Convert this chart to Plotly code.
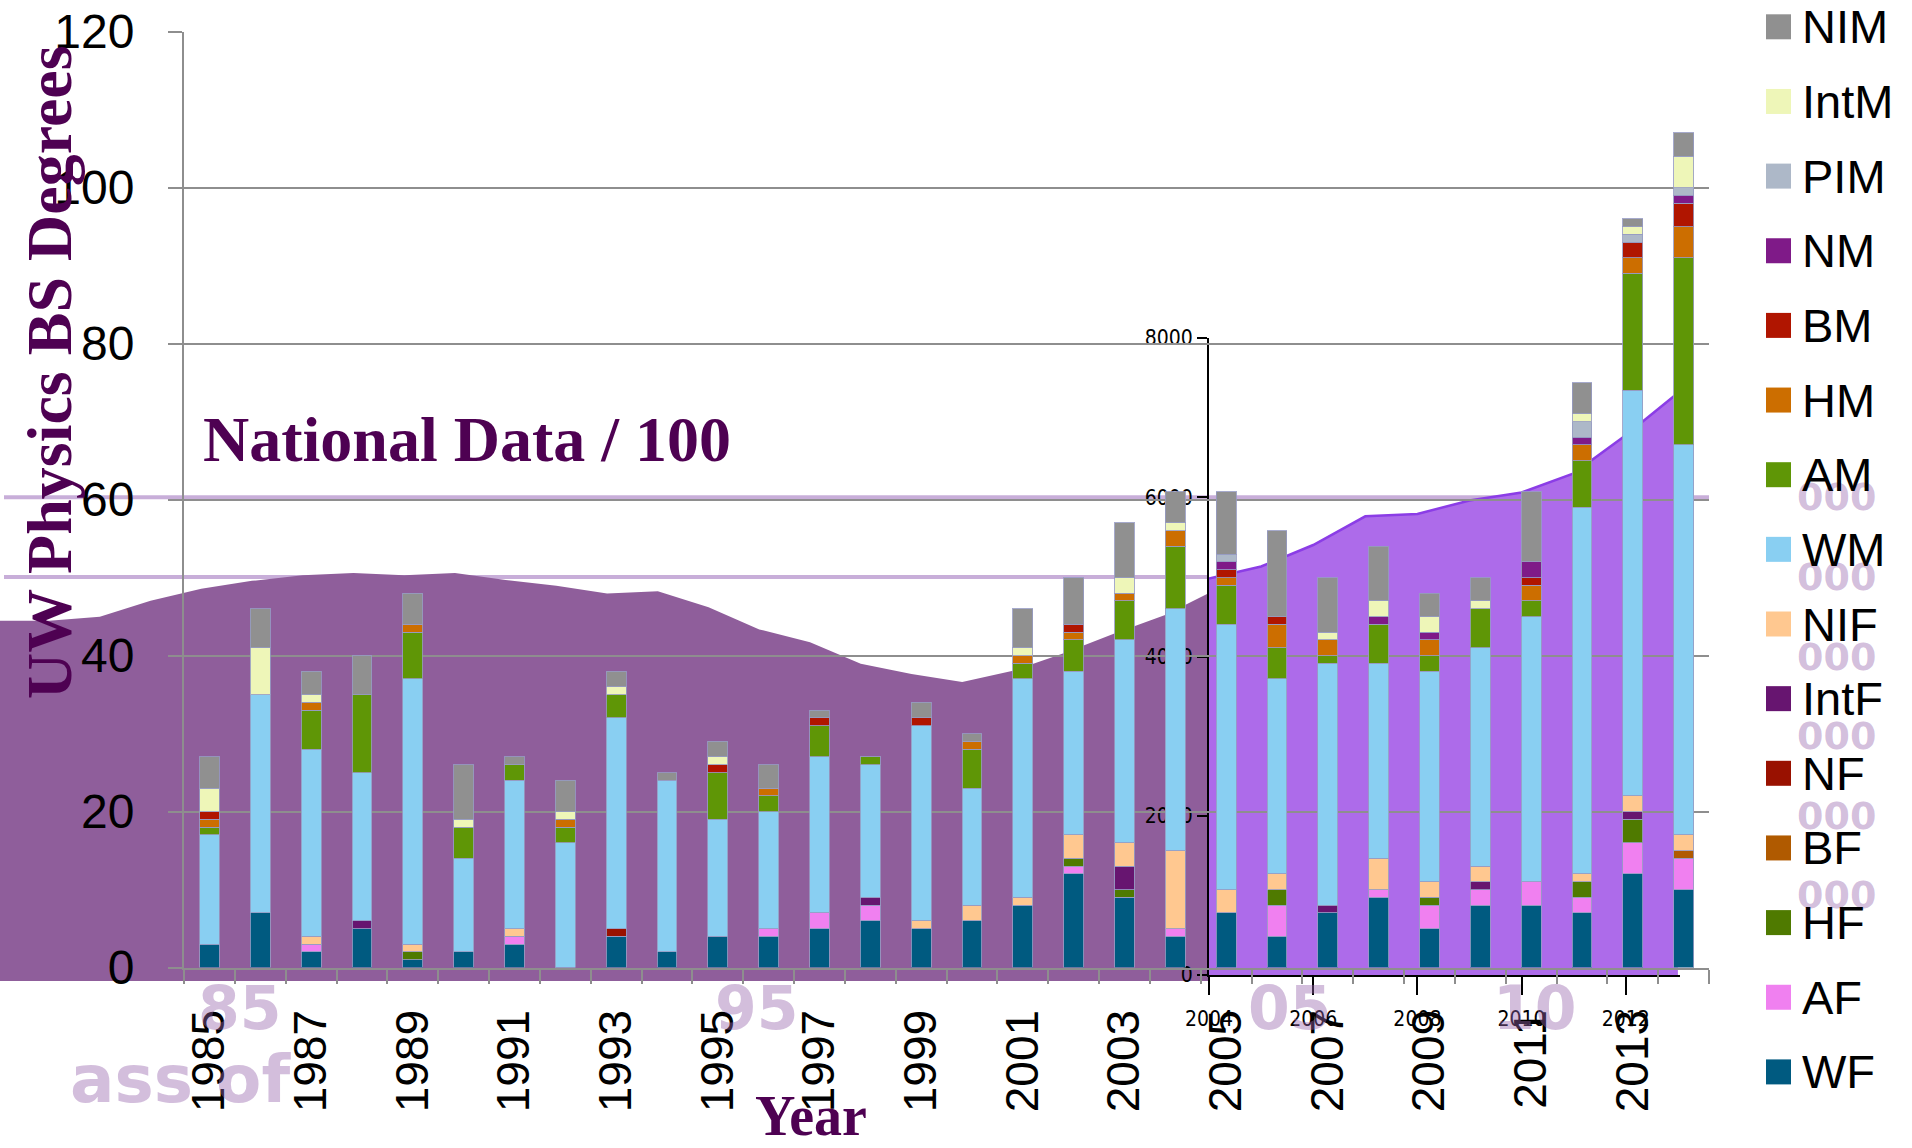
import plotly.graph_objects as go

# ---------------- data ----------------
years = list(range(1985, 2015))

WF   = [3, 7, 2, 5, 1, 2, 3, 0, 4, 2, 4, 4, 5, 6, 5, 6, 8, 12, 9, 4, 7, 4, 7, 9, 5, 8, 8, 7, 12, 10]
AF   = [0, 0, 1, 0, 0, 0, 1, 0, 0, 0, 0, 1, 2, 2, 0, 0, 0, 1, 0, 1, 0, 4, 0, 1, 3, 2, 3, 2, 4, 4]
HF   = [0, 0, 0, 0, 1, 0, 0, 0, 0, 0, 0, 0, 0, 0, 0, 0, 0, 1, 1, 0, 0, 2, 0, 0, 1, 0, 0, 2, 3, 0]
BF   = [0, 0, 0, 0, 0, 0, 0, 0, 0, 0, 0, 0, 0, 0, 0, 0, 0, 0, 0, 0, 0, 0, 0, 0, 0, 0, 0, 0, 0, 1]
NF   = [0, 0, 0, 0, 0, 0, 0, 0, 1, 0, 0, 0, 0, 0, 0, 0, 0, 0, 0, 0, 0, 0, 0, 0, 0, 0, 0, 0, 0, 0]
IntF = [0, 0, 0, 1, 0, 0, 0, 0, 0, 0, 0, 0, 0, 1, 0, 0, 0, 0, 3, 0, 0, 0, 1, 0, 0, 1, 0, 0, 1, 0]
NIF  = [0, 0, 1, 0, 1, 0, 1, 0, 0, 0, 0, 0, 0, 0, 1, 2, 1, 3, 3, 10, 3, 2, 0, 4, 2, 2, 0, 1, 2, 2]
WM   = [14, 28, 24, 19, 34, 12, 19, 16, 27, 22, 15, 15, 20, 17, 25, 15, 28, 21, 26, 31, 34, 25, 31, 25, 27, 28, 34, 47, 52, 50]
AM   = [1, 0, 5, 10, 6, 4, 2, 2, 3, 0, 6, 2, 4, 1, 0, 5, 2, 4, 5, 8, 5, 4, 1, 5, 2, 5, 2, 6, 15, 24]
HM   = [1, 0, 1, 0, 1, 0, 0, 1, 0, 0, 0, 1, 0, 0, 0, 1, 1, 1, 1, 2, 1, 3, 2, 0, 2, 0, 2, 2, 2, 4]
BM   = [1, 0, 0, 0, 0, 0, 0, 0, 0, 0, 1, 0, 1, 0, 1, 0, 0, 1, 0, 0, 1, 1, 0, 0, 0, 0, 1, 0, 2, 3]
NM   = [0, 0, 0, 0, 0, 0, 0, 0, 0, 0, 0, 0, 0, 0, 0, 0, 0, 0, 0, 0, 1, 0, 0, 1, 1, 0, 2, 1, 0, 1]
PIM  = [0, 0, 0, 0, 0, 0, 0, 0, 0, 0, 0, 0, 0, 0, 0, 0, 0, 0, 0, 0, 1, 0, 0, 0, 0, 0, 0, 2, 1, 1]
IntM = [3, 6, 1, 0, 0, 1, 0, 1, 1, 0, 1, 0, 0, 0, 0, 0, 1, 0, 2, 1, 0, 0, 1, 2, 2, 1, 0, 1, 1, 4]
NIM  = [4, 5, 3, 5, 4, 7, 1, 4, 2, 1, 2, 3, 1, 0, 2, 1, 5, 6, 7, 4, 8, 11, 7, 7, 3, 3, 9, 4, 1, 3]

# national physics BS degrees (background area), early part and inset part
nat_years_early = list(range(1980, 2005))
nat_early = [4450, 4450, 4500, 4700, 4850, 4950, 5020, 5050, 5020, 5050, 4960, 4890, 4790,
             4820, 4620, 4340, 4180, 3910, 3780, 3680, 3820, 4040, 4290, 4520, 4840]
nat_years_late = list(range(2004, 2014))
nat_late = [4980, 5130, 5400, 5760, 5790, 5960, 6060, 6300, 6780, 7310]

inset_ticks_x = [2004, 2006, 2008, 2010, 2012]
inset_ticks_y = [0, 2000, 4000, 6000, 8000]
main_ticks_y = [0, 20, 40, 60, 80, 100, 120]
label_years = list(range(1985, 2014, 2))

series = [
    ("WF", WF, "#005a80"),
    ("AF", AF, "#f080f0"),
    ("HF", HF, "#4f7a00"),
    ("BF", BF, "#b05a00"),
    ("NF", NF, "#991100"),
    ("IntF", IntF, "#671570"),
    ("NIF", NIF, "#ffc890"),
    ("WM", WM, "#89cff2"),
    ("AM", AM, "#5f9606"),
    ("HM", HM, "#cc6e00"),
    ("BM", BM, "#b01500"),
    ("NM", NM, "#7f1a88"),
    ("PIM", PIM, "#adb8c8"),
    ("IntM", IntM, "#eef6b8"),
    ("NIM", NIM, "#909090"),
]

# ---------------- geometry (pixels) ----------------
W, H = 1912, 1148
AX_L, AX_R = 184, 1709
Y0_PX, Y120_PX = 967.5, 31.5
INS_L, INS_R = 1209, 1680
INS_Y0, INS_Y8 = 975, 338
INS_PX_YR = 52.1
NAT_BOTTOM_PX = 981
NAT_1985_PX, NAT_PX_YR = 252, 50.73
px_per_count = (INS_Y0 - INS_Y8) / 8000.0

GRID = "#8e8e8e"
DARK = "#8f5e9b"
LIGHT = "#ad6bea"
PURPLE_TXT = "#4e0152"
SANS = "Liberation Sans, Arial, Helvetica, sans-serif"
SERIF = "Liberation Serif, Times New Roman, serif"
COND = "Liberation Sans Narrow, DejaVu Sans Condensed, Arial Narrow, sans-serif"

nat_floor = -(NAT_BOTTOM_PX - INS_Y0) / px_per_count
nat_top = INS_Y0 / px_per_count

fig = go.Figure()

# background national area (early)
fig.add_trace(go.Scatter(x=nat_years_early, y=[nat_floor] * len(nat_years_early), mode="lines",
                         line=dict(width=0, color=DARK), hoverinfo="skip", showlegend=False,
                         xaxis="x", yaxis="y"))
fig.add_trace(go.Scatter(x=nat_years_early, y=nat_early, mode="lines", line=dict(width=0, color=DARK),
                         fill="tonexty", fillcolor=DARK, showlegend=False, xaxis="x", yaxis="y"))

# inset national area (late)
fig.add_trace(go.Scatter(x=nat_years_late, y=nat_late, mode="lines", line=dict(width=2.5, color="#8b3de6"),
                         fill="tozeroy", fillcolor=LIGHT, showlegend=False, xaxis="x2", yaxis="y2"))

# stacked bars
for name, vals, color in series:
    fig.add_trace(go.Bar(
        x=years, y=[v if v else None for v in vals], name=name,
        marker=dict(color=color, line=dict(color="rgba(150,155,195,0.85)", width=1)),
        xaxis="x3", yaxis="y3", showlegend=False))

fig.update_layout(
    width=W, height=H, margin=dict(l=0, r=0, t=0, b=0, pad=0), autosize=False,
    paper_bgcolor="white", plot_bgcolor="rgba(0,0,0,0)",
    barmode="stack", bargap=0.61, showlegend=False,
    xaxis=dict(domain=[0, INS_L / W], automargin=False,
               range=[1985 - NAT_1985_PX / NAT_PX_YR, 1985 + (INS_L - NAT_1985_PX) / NAT_PX_YR],
               visible=False),
    yaxis=dict(domain=[1 - NAT_BOTTOM_PX / H, 1], range=[nat_floor, nat_top], visible=False,
               automargin=False),
    xaxis2=dict(domain=[INS_L / W, INS_R / W], range=[2004, 2004 + (INS_R - INS_L) / INS_PX_YR],
                anchor="y2", showline=True, linecolor="black", linewidth=2, automargin=False,
                ticks="outside", ticklen=18, tickwidth=2, tickcolor="black",
                tickvals=inset_ticks_x, tickfont=dict(family=COND, size=21, color="black"),
                ticklabelstandoff=6, showgrid=False, zeroline=False),
    yaxis2=dict(domain=[1 - INS_Y0 / H, 1 - INS_Y8 / H], range=[0, 8000], anchor="x2",
                showline=True, linecolor="black", linewidth=2, automargin=False,
                ticks="outside", ticklen=10, tickwidth=2, tickcolor="black",
                tickvals=inset_ticks_y, tickfont=dict(family=COND, size=21, color="black"),
                showgrid=False, zeroline=False),
    xaxis3=dict(domain=[AX_L / W, AX_R / W], range=[1984.5, 2014.5], anchor="y3",
                showline=True, linecolor=GRID, linewidth=2, ticks="", automargin=False,
                tickvals=label_years, tickangle=-90,
                tickfont=dict(family=SANS, size=46, color="black"), ticklabelstandoff=22,
                minor=dict(tickvals=[y - 0.5 for y in years] + [years[-1] + 0.5], ticks="outside",
                           ticklen=14, tickwidth=2, tickcolor=GRID, showgrid=False),
                showgrid=False, zeroline=False),
    yaxis3=dict(domain=[1 - Y0_PX / H, 1 - Y120_PX / H], range=[0, 120], anchor="x3",
                showline=True, linecolor=GRID, linewidth=2, automargin=False,
                ticks="outside", ticklen=14, tickwidth=2, tickcolor=GRID,
                tickvals=main_ticks_y, tickfont=dict(family=SANS, size=48, color="black"),
                ticklabelstandoff=24, showgrid=True, gridcolor=GRID, gridwidth=2, zeroline=False),
)

# ghost national-chart gridlines (5000, 6000)
fig.add_shape(type="line", xref="paper", yref="y", x0=4 / W, x1=INS_L / W, y0=5000, y1=5000,
              line=dict(color="rgba(190,160,210,0.85)", width=4), layer="below")
fig.add_shape(type="line", xref="paper", yref="y", x0=4 / W, x1=AX_R / W, y0=6000, y1=6000,
              line=dict(color="rgba(190,160,210,0.85)", width=4), layer="below")

annotations = []
ghost = "rgba(150,100,172,0.42)"
for txt, gx, gy, gs in [("85", 240, 1008, 60), ("95", 757, 1008, 60), ("05", 1290, 1008, 60),
                        ("10", 1535, 1008, 60), ("ass of", 180, 1079, 66)]:
    annotations.append(dict(text=txt, x=gx / W, y=1 - gy / H, xref="paper", yref="paper",
                            showarrow=False, xanchor="center", yanchor="middle",
                            font=dict(family="DejaVu Sans", size=gs, color=ghost, weight="bold")))
for v in [6000, 5000, 4000, 3000, 2000, 1000]:
    gy = INS_Y0 - v * px_per_count
    annotations.append(dict(text="000", x=1836 / W, y=1 - gy / H, xref="paper", yref="paper",
                            showarrow=False, xanchor="center", yanchor="middle",
                            font=dict(family="DejaVu Sans", size=38, color=ghost, weight="bold")))

# titles
annotations.append(dict(text="UW Physics BS Degrees", x=49 / W, y=1 - 372 / H, xref="paper", yref="paper",
                        showarrow=False, textangle=-90, xanchor="center", yanchor="middle",
                        font=dict(family=SERIF, size=64, color=PURPLE_TXT, weight="bold")))
annotations.append(dict(text="Year", x=811 / W, y=1 - 1116 / H, xref="paper", yref="paper",
                        showarrow=False, xanchor="center", yanchor="middle",
                        font=dict(family=SERIF, size=56, color=PURPLE_TXT, weight="bold")))
annotations.append(dict(text="National Data / 100", x=467 / W, y=1 - 439 / H, xref="paper", yref="paper",
                        showarrow=False, xanchor="center", yanchor="middle",
                        font=dict(family=SERIF, size=64, color=PURPLE_TXT, weight="bold")))

# legend (top item = top of stack)
LEG_Y0, LEG_DY = 26.8, 74.65
for i, (name, vals, color) in enumerate(reversed(series)):
    cy = LEG_Y0 + i * LEG_DY
    fig.add_shape(type="rect", xref="paper", yref="paper",
                  x0=1766 / W, x1=1791 / W, y0=1 - (cy - 12.5) / H, y1=1 - (cy + 12.5) / H,
                  fillcolor=color, line=dict(width=0))
    annotations.append(dict(text=name, x=1800 / W, y=1 - cy / H, xref="paper", yref="paper",
                            showarrow=False, xanchor="left", yanchor="middle",
                            font=dict(family=SANS, size=47, color="black")))

fig.update_layout(annotations=annotations)
fig.write_html(
    "out.html",
    config={"displayModeBar": False},
    post_script="document.body.style.margin='0px';document.documentElement.style.overflow='hidden';",
)
